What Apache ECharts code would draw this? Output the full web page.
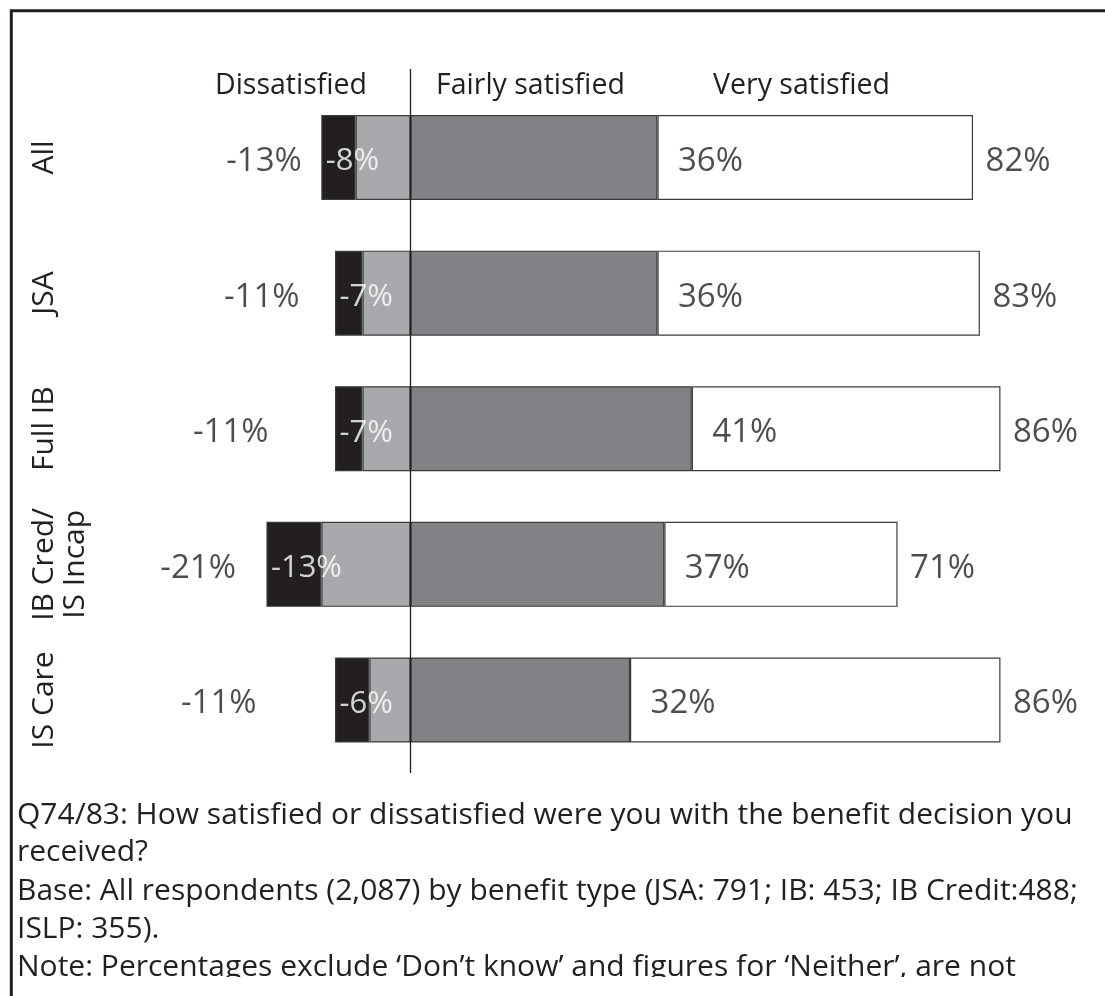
<!DOCTYPE html>
<html><head><meta charset="utf-8">
<script src="https://cdn.jsdelivr.net/npm/echarts@6/dist/echarts.min.js"></script>
<style>html,body{margin:0;padding:0;background:#fff}#c{width:1105px;height:996px}</style>
</head><body><div id="c"></div>
<script>
// ---- data ----
const categories = ['All', 'JSA', 'Full IB', 'IB Cred/\nIS Incap', 'IS Care'];
const veryDissatisfied = [5, 4, 4, 8, 5];
const fairlyDissatisfied = [8, 7, 7, 13, 6];
const fairlySatisfied = [36, 36, 41, 37, 32];
const verySatisfied = [46, 47, 45, 34, 54];
const totalDissatisfied = [13, 11, 11, 21, 11];
const totalSatisfied = [82, 83, 86, 71, 86];
const headers = ['Dissatisfied', 'Fairly satisfied', 'Very satisfied'];
const footnoteLines = [
  'Q74/83: How satisfied or dissatisfied were you with the benefit decision you',
  'received?',
  'Base: All respondents (2,087) by benefit type (JSA: 791; IB: 453; IB Credit:488;',
  'ISLP: 355).',
  'Note: Percentages exclude \u2018Don\u2019t know\u2019 and figures for \u2018Neither\u2019, are not'
];

// ---- style ----
const FONT = '"Open Sans", "DejaVu Sans", sans-serif';
const INK = '#231f20';
const leftTotalGap = [19, 35, 66, 30, 78]; // label spacing (layout only)

const chart = echarts.init(document.getElementById('c'), null, {renderer: 'canvas'});

function barSeries(name, values, color, sign) {
  return {
    name, type: 'bar', stack: 'total', barWidth: 85,
    data: values.map(v => sign * v),
    itemStyle: {color, borderColor: '#3b3b3b', borderWidth: 1.2},
    emphasis: {disabled: true}, silent: true
  };
}
function labelSeries(name, points, label) {
  return {
    name, type: 'scatter', symbolSize: 1, z: 10, silent: true,
    itemStyle: {color: 'rgba(0,0,0,0)'},
    data: points,
    label: Object.assign({show: true, fontFamily: FONT, offset: [0, 4]}, label)
  };
}

chart.setOption({
  animation: false,
  backgroundColor: '#ffffff',
  grid: {left: 204.7, right: 8.5, top: 89.7, bottom: 228.2, containLabel: false, outerBoundsMode: 'none'},
  xAxis: {type: 'value', min: -30, max: 100, show: false},
  yAxis: {
    type: 'category', data: categories, inverse: true,
    axisLine: {show: false}, axisTick: {show: false}, splitLine: {show: false},
    axisLabel: {
      interval: 0, rotate: 90, margin: 176, verticalAlign: 'top',
      fontFamily: FONT, fontSize: 30, lineHeight: 31, color: INK
    }
  },
  series: [
    barSeries('Fairly dissatisfied', fairlyDissatisfied, '#a7a9ac', -1),
    barSeries('Very dissatisfied', veryDissatisfied, '#231f20', -1),
    barSeries('Fairly satisfied', fairlySatisfied, '#808285', 1),
    barSeries('Very satisfied', verySatisfied, '#ffffff', 1),
    labelSeries('fd-label', totalDissatisfied.map((t, i) => ({value: [-t, i], fd: fairlyDissatisfied[i]})), {
      position: 'right', distance: 4, color: '#ffffff', fontSize: 31,
      formatter: p => '-' + p.data.fd + '%'
    }),
    labelSeries('fs-label', fairlySatisfied.map((v, i) => [v, i]), {
      position: 'right', distance: 20, color: INK, fontSize: 33,
      formatter: p => p.value[0] + '%'
    }),
    labelSeries('sat-total', totalSatisfied.map((v, i) => [v, i]), {
      position: 'right', distance: 12, color: INK, fontSize: 33,
      formatter: p => p.value[0] + '%'
    }),
    labelSeries('dis-total', totalDissatisfied.map((t, i) => ({value: [-t, i], label: {distance: leftTotalGap[i]}})), {
      position: 'left', color: INK, fontSize: 33,
      formatter: p => p.value[0] + '%'
    })
  ]
});

// Annotations: zero line, headers, frame, footnote
const zeroX = chart.convertToPixel({xAxisIndex: 0}, 0);
const graphics = [
  {type: 'line', shape: {x1: zeroX, y1: 69, x2: zeroX, y2: 773}, style: {stroke: INK, lineWidth: 1.3}, z: 20, silent: true},
  {type: 'polyline', shape: {points: [[11.3, 996], [11.3, 10.8], [1105, 10.8]]}, style: {stroke: INK, lineWidth: 3, fill: null}, z: 30, silent: true},
  {type: 'text', x: 215, y: 86, style: {text: headers[0], font: '28.5px ' + FONT, fill: INK, verticalAlign: 'middle', align: 'left'}, silent: true},
  {type: 'text', x: 436, y: 86, style: {text: headers[1], font: '28.5px ' + FONT, fill: INK, verticalAlign: 'middle', align: 'left'}, silent: true},
  {type: 'text', x: 713, y: 86, style: {text: headers[2], font: '28.5px ' + FONT, fill: INK, verticalAlign: 'middle', align: 'left'}, silent: true}
];
const footY = [815, 852.5, 891, 929, 967];
footnoteLines.forEach((t, i) => {
  graphics.push({type: 'text', x: 17, y: footY[i], style: {text: t, font: '30px ' + FONT, fill: INK, verticalAlign: 'middle', align: 'left'}, z: 5, silent: true});
});
graphics.push({type: 'rect', shape: {x: 14, y: 977, width: 1091, height: 19}, style: {fill: '#ffffff'}, z: 25, silent: true});
chart.setOption({graphic: graphics});
</script>
</body></html>
